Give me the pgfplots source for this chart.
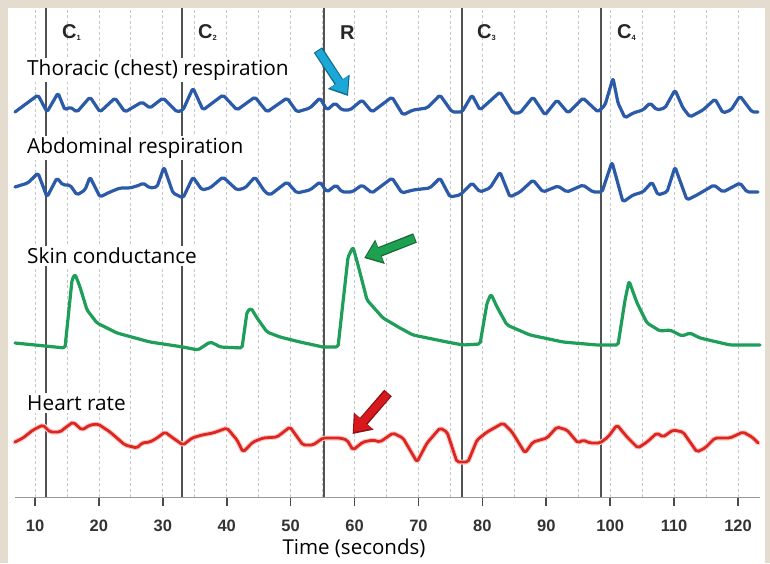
\documentclass[border=0pt]{standalone}
\usepackage{fontspec}
\setmainfont{Open Sans}
\newfontfamily\arialf{Liberation Sans}
\usepackage{pgfplots}
\pgfplotsset{compat=1.18}
\usetikzlibrary{arrows.meta,backgrounds,calc}
\definecolor{cream}{RGB}{228,221,207}
\definecolor{trblue}{RGB}{42,90,168}
\definecolor{trgreen}{RGB}{30,158,88}
\definecolor{trred}{RGB}{222,38,32}
\definecolor{arrblue}{RGB}{28,168,215}
\definecolor{arrgreen}{RGB}{30,160,80}
\definecolor{arrred}{RGB}{215,25,30}
\begin{document}
\begin{tikzpicture}[x=1pt,y=1pt]
\begin{axis}[
  scale only axis,
  width=745pt, height=489pt,
  xmin=6.87, xmax=123.44, ymin=0, ymax=489,
  axis y line=none, axis x line*=bottom,
  x axis line style={-, draw=black!40, line width=1pt},
  xtick={10,20,...,120}, minor xtick={15,25,...,115},
  tick align=outside, major tick length=9pt, minor tick length=0pt,
  major tick style={draw=black!70, line width=1.6pt},
  grid=both,
  grid style={draw=black!22, dash pattern=on 3pt off 2.5pt, line width=0.8pt},
  /pgf/number format/assume math mode=true,
  xticklabel style={font=\arialf\bfseries\fontsize{16.5}{16.5}\selectfont, text=black!80, inner sep=0pt, anchor=north, yshift=-14pt},
  xlabel={Time (seconds)},
  xlabel style={font=\fontsize{20.5}{20.5}\selectfont, at={(axis description cs:0.455,-0.1043)}, anchor=center},
  clip=false,
  trace/.style={line width=3.2pt, line join=round, line cap=round, rounded corners=1.8pt},
]
\coordinate (SW) at (rel axis cs:0,0);
% event markers
\addplot[draw=black!68, line width=2.2pt] coordinates {(11.72,0) (11.72,489)};
\addplot[draw=black!68, line width=2.2pt] coordinates {(33.0,0) (33.0,489)};
\addplot[draw=black!68, line width=2.2pt] coordinates {(55.2,0) (55.2,489)};
\addplot[draw=black!68, line width=2.2pt] coordinates {(76.8,0) (76.8,489)};
\addplot[draw=black!68, line width=2.2pt] coordinates {(98.56,0) (98.56,489)};

% labels
\node[fill=white, inner sep=2pt, anchor=west, font=\fontsize{20.8}{20.8}\selectfont] at (axis cs:8.44,427) {Thoracic (chest) respiration};
\node[fill=white, inner sep=2pt, anchor=west, font=\fontsize{20.8}{20.8}\selectfont] at (axis cs:8.44,349) {Abdominal respiration};
\node[fill=white, inner sep=2pt, anchor=west, font=\fontsize{20.8}{20.8}\selectfont] at (axis cs:8.44,241) {Skin conductance};
\node[fill=white, inner sep=2pt, anchor=west, font=\fontsize{20.8}{20.8}\selectfont] at (axis cs:8.44,94) {Heart rate};

\node[anchor=west, inner sep=0pt, font=\arialf\bfseries\fontsize{20}{20}\selectfont, text=black!85] at (axis cs:14.22,464) {C\raisebox{-2pt}{\fontsize{7.5}{7.5}\selectfont 1}};
\node[anchor=west, inner sep=0pt, font=\arialf\bfseries\fontsize{20}{20}\selectfont, text=black!85] at (axis cs:35.50,464) {C\raisebox{-2pt}{\fontsize{7.5}{7.5}\selectfont 2}};
\node[anchor=west, inner sep=0pt, font=\arialf\bfseries\fontsize{20}{20}\selectfont, text=black!85] at (axis cs:57.72,464) {R};
\node[anchor=west, inner sep=0pt, font=\arialf\bfseries\fontsize{20}{20}\selectfont, text=black!85] at (axis cs:79.16,464) {C\raisebox{-2pt}{\fontsize{7.5}{7.5}\selectfont 3}};
\node[anchor=west, inner sep=0pt, font=\arialf\bfseries\fontsize{20}{20}\selectfont, text=black!85] at (axis cs:101.07,464) {C\raisebox{-2pt}{\fontsize{7.5}{7.5}\selectfont 4}};

% Thoracic respiration
\addplot[draw=trblue, trace] coordinates {
(6.87,385) (10.47,402) (11.88,385) (13.60,404) (14.69,387) (15.48,390) (16.57,385)
(18.61,400) (20.17,385) (22.52,399) (24.08,385) (26.74,395) (27.99,389) (30.03,399)
(32.22,385) (33.16,387) (34.72,409) (36.29,387) (39.42,402) (41.61,387) (44.42,400)
(46.30,385) (49.43,399) (50.99,385) (53.03,389) (54.59,399) (55.69,387) (56.94,394)
(58.04,387) (59.29,387) (61.17,397) (62.73,385) (65.86,400) (67.58,382) (69.14,387)
(71.34,389) (73.37,402) (75.25,385) (76.81,385) (78.38,402) (79.63,387) (82.76,405)
(84.79,384) (85.89,384) (87.92,400) (89.80,382) (91.68,397) (93.40,384) (95.75,399)
(98.09,385) (99.19,392) (100.44,419) (101.22,394) (102.32,379) (103.57,384) (105.13,387)
(106.23,394) (107.32,387) (108.57,389) (110.14,407) (111.39,389) (112.49,380) (114.52,387)
(116.40,398) (117.65,384) (118.90,387) (120.31,401) (122.19,385) (123.13,385)
};
% Abdominal respiration
\addplot[draw=trblue, trace] coordinates {
(6.87,310) (8.90,314) (10.47,324) (11.88,300) (13.44,319) (14.38,312) (15.48,312)
(16.57,302) (17.82,307) (18.61,320) (20.17,300) (21.74,305) (23.30,309) (24.86,309)
(26.43,312) (26.90,314) (27.99,309) (29.09,310) (30.18,330) (31.59,304) (33.16,299)
(34.72,320) (36.13,307) (37.38,309) (39.42,320) (41.61,307) (42.86,309) (44.42,320)
(45.99,305) (46.77,302) (49.43,315) (50.99,304) (53.03,307) (54.59,315) (55.69,305)
(57.10,312) (58.04,305) (59.60,305) (61.17,312) (62.73,304) (65.86,319) (67.42,304)
(69.14,307) (71.80,309) (73.37,319) (74.94,300) (76.50,302) (78.38,314) (79.63,305)
(81.19,309) (82.76,325) (84.32,300) (85.89,305) (87.92,317) (89.49,305) (91.83,311)
(93.24,305) (95.75,312) (97.31,305) (98.72,305) (100.28,335) (102.00,295) (103.57,302)
(105.13,305) (106.54,315) (107.48,302) (108.89,305) (110.14,330) (112.02,297) (113.58,302)
(116.24,312) (117.65,305) (120.31,314) (121.41,305) (123.13,305)
};
% Skin conductance
\addplot[draw=trgreen, trace] coordinates {
(6.87,154) (14.69,149) (15.79,217) (16.26,223) (17.04,210) (18.14,187) (19.70,174)
(22.83,164) (27.99,155) (33.16,150) (35.50,147) (36.44,151) (37.38,155) (38.16,153)
(38.95,150) (42.39,149) (43.17,185) (43.80,189) (44.74,179) (46.30,165) (48.33,160)
(51.46,155) (55.06,150) (57.41,150) (58.98,240) (59.76,250) (60.54,232) (61.95,197)
(64.45,179) (67.11,169) (69.14,162) (74.47,155) (76.97,152) (79.63,153) (80.73,194)
(81.35,203) (82.29,190) (83.85,172) (87.45,162) (92.62,155) (97.94,152) (101.22,152)
(102.32,197) (102.95,216) (104.20,194) (105.76,174) (107.79,166) (109.36,167) (111.24,161)
(112.49,164) (114.05,159) (118.75,152) (123.44,152)
};
% Heart rate
\addplot[draw=trred, trace, line width=2.8pt, preaction={draw=trred!25, line width=5pt}] coordinates {
(6.87,55) (8.12,59) (9.69,67) (11.25,72) (12.35,65) (13.91,65) (14.69,69) (15.95,75)
(17.35,67) (18.61,72) (19.86,73) (21.74,65) (24.08,52) (25.96,49) (26.74,54) (27.99,55)
(29.09,59) (30.34,65) (31.59,59) (33.16,52) (34.57,59) (36.13,62) (37.85,64) (40.04,69)
(41.61,57) (42.55,45) (44.11,55) (45.68,59) (47.87,60) (49.90,70) (51.93,52) (53.50,52)
(55.06,59) (57.72,59) (58.82,57) (59.76,47) (61.32,55) (62.89,57) (63.98,55) (66.02,64)
(67.58,59) (69.77,35) (71.34,54) (73.37,69) (74.47,65) (76.03,35) (77.75,35) (79.16,57)
(80.73,65) (83.23,74) (84.64,65) (86.67,44) (87.92,55) (90.11,59) (91.68,70) (93.24,67)
(94.96,54) (95.75,57) (96.84,54) (98.41,54) (99.66,60) (101.07,72) (102.63,60) (104.35,49)
(105.76,55) (107.32,64) (108.26,60) (109.83,67) (111.39,65) (113.58,45) (114.83,49)
(116.40,59) (118.75,59) (120.78,65) (122.19,60) (123.13,54)
};

% arrows
\draw[draw=arrblue!65!black, line width=10pt, -{Triangle[length=17pt,width=25pt]}] (axis cs:54.28,447) -- (axis cs:58.98,401);
\draw[draw=arrblue, line width=7.5pt, -{Triangle[length=14.5pt,width=21pt]}] (axis cs:54.35,446) -- (axis cs:58.85,403);
\draw[draw=arrgreen!65!black, line width=10pt, -{Triangle[length=17pt,width=25pt]}] (axis cs:69.46,259) -- (axis cs:61.5,239);
\draw[draw=arrgreen, line width=7.5pt, -{Triangle[length=14.5pt,width=21pt]}] (axis cs:69.35,258.5) -- (axis cs:61.75,240);
\draw[draw=arrred!65!black, line width=10pt, -{Triangle[length=17pt,width=25pt]}] (axis cs:65.23,104) -- (axis cs:59.7,63);
\draw[draw=arrred, line width=7.5pt, -{Triangle[length=14.5pt,width=21pt]}] (axis cs:65.15,103) -- (axis cs:59.85,65);
\end{axis}
\begin{scope}[on background layer]
\fill[cream] ($(SW)+(-15,-66)$) rectangle ($(SW)+(755,497)$);
\fill[white] ($(SW)+(-7,-66)$) rectangle ($(SW)+(750,489)$);
\end{scope}
\pgfresetboundingbox
\useasboundingbox ($(SW)+(-15,-66)$) rectangle ($(SW)+(755,497)$);
\end{tikzpicture}
\end{document}
